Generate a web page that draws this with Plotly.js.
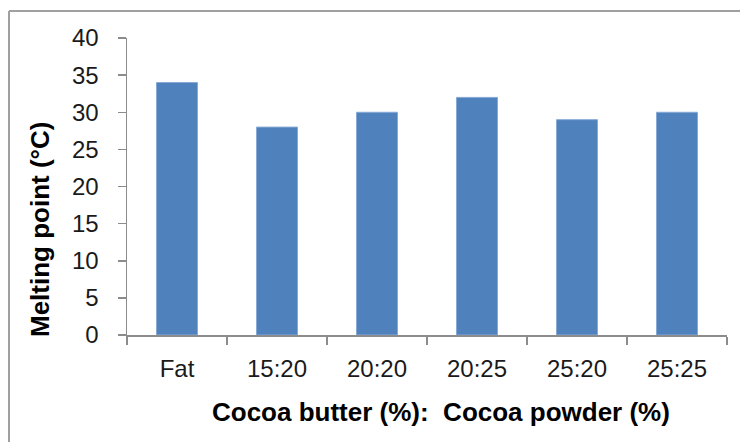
<!DOCTYPE html>
<html>
<head>
<meta charset="utf-8">
<script src="https://cdn.plot.ly/plotly-3.0.1.min.js"></script>
<style>
  html, body { margin: 0; padding: 0; background: #fff; }
  #chart { width: 740px; height: 442px; }
</style>
</head>
<body>
<div id="chart"></div>
<script>
// Melting point of each sample, by cocoa butter : cocoa powder ratio
const categories = ["Fat", "15:20", "20:20", "20:25", "25:20", "25:25"];
const meltingPoint = [34, 28, 30, 32, 29, 30];
const yTicks = [0, 5, 10, 15, 20, 25, 30, 35, 40];

const axisGray = "#8c8c8c";
const textColor = "#1a1a1a";
const font = "Liberation Sans, Arial, sans-serif";

const trace = {
  type: "bar",
  x: categories,
  y: meltingPoint,
  marker: { color: "#4f81bd", line: { color: "#86a9d6", width: 1 } },
  hoverinfo: "x+y"
};

// Frame in paper units: plot spans x 127..727 px, y 38..335 px
const L = 127, R = 727, T = 38, B = 335;
const px = v => (v - L) / (R - L);
const py = v => (B - v) / (B - T);

const layout = {
  width: 740,
  height: 442,
  margin: { l: L, r: 740 - R, t: T, b: 442 - B },
  paper_bgcolor: "#fff",
  plot_bgcolor: "#fff",
  showlegend: false,
  bargap: 0.59,
  font: { family: font, color: textColor, size: 24 },
  xaxis: {
    type: "category",
    range: [-0.5, 5.5],
    showline: true,
    linecolor: axisGray,
    linewidth: 1.5,
    ticks: "outside",
    tickson: "boundaries",
    ticklen: 8,
    tickwidth: 1.5,
    tickcolor: axisGray,
    ticklabelstandoff: 12,
    tickfont: { size: 24, color: textColor },
    showgrid: false,
    zeroline: false,
    fixedrange: true
  },
  yaxis: {
    range: [0, 40],
    tickvals: yTicks,
    showline: true,
    linecolor: axisGray,
    linewidth: 1.5,
    ticks: "outside",
    ticklen: 8,
    tickwidth: 1.5,
    tickcolor: axisGray,
    ticklabelstandoff: 14,
    tickfont: { size: 24, color: textColor },
    showgrid: false,
    zeroline: false,
    fixedrange: true
  },
  annotations: [
    {
      text: "<b>Cocoa butter (%):&nbsp; Cocoa powder (%)</b>",
      xref: "paper", yref: "paper",
      x: px(441), y: py(412),
      xanchor: "center", yanchor: "middle",
      showarrow: false,
      font: { size: 26, color: "#000", family: font }
    },
    {
      text: "<b>Melting point (°C)</b>",
      xref: "paper", yref: "paper",
      x: px(40), y: py(230),
      xanchor: "center", yanchor: "middle",
      textangle: -90,
      showarrow: false,
      font: { size: 26, color: "#000", family: font }
    }
  ],
  shapes: [
    {
      type: "line", xref: "paper", yref: "paper",
      x0: px(9), x1: px(760), y0: py(11), y1: py(11),
      line: { color: "#a0a0a0", width: 2 }
    },
    {
      type: "line", xref: "paper", yref: "paper",
      x0: px(9), x1: px(9), y0: py(11), y1: py(460),
      line: { color: "#a0a0a0", width: 2 }
    }
  ]
};

Plotly.newPlot("chart", [trace], layout, { displayModeBar: false, staticPlot: true });
</script>
</body>
</html>
